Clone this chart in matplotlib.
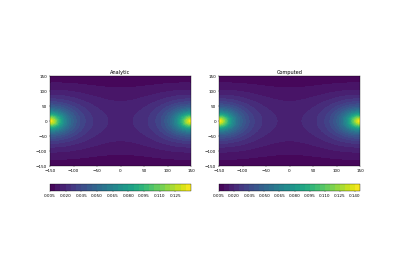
import numpy as np
import matplotlib
matplotlib.use("Agg")
import matplotlib.pyplot as plt

# --- data (read/estimated from the reference) ---
titles = ["Analytic", "Computed"]
source_x = [-150.0, 150.0]          # field sources at the left/right edges
source_strength = [2.7, 2.7]        # per panel
core_radius = [20.0, 19.2]          # per panel
decay_length = [236.0, 236.0]       # per panel
y_taper = [250.0, 250.0]            # per panel
level_min = [0.005, 0.005]
level_max = [0.140, 0.145]
level_step = 0.005
tick_max = [0.125, 0.140]
tick_step = 0.015
axis_ticks = [-150, -100, -50, 0, 50, 100, 150]

x = np.linspace(-150, 150, 241)
y = np.linspace(-150, 150, 241)
X, Y = np.meshgrid(x, y)


def field(i):
    f = np.zeros_like(X)
    for sx in source_x:
        r = np.hypot(X - sx, Y)
        f += (source_strength[i] * np.exp(-r / decay_length[i])
              / np.sqrt(r ** 2 + core_radius[i] ** 2))
    return f * np.cos(np.pi * Y / (2 * y_taper[i]))


DPI = 30
fig = plt.figure(figsize=(400 / DPI, 280 / DPI), dpi=DPI)

ax_pos = [[0.125, 0.407, 0.3525, 0.321], [0.5475, 0.407, 0.3525, 0.321]]
cb_pos = [[0.125, 0.318, 0.3525, 0.026], [0.5475, 0.318, 0.3525, 0.026]]

for i in range(2):
    ax = fig.add_axes(ax_pos[i])
    levels = np.arange(level_min[i], level_max[i] + 1e-9, level_step)
    cs = ax.contourf(X, Y, field(i), levels=levels, cmap="viridis")
    ax.set_title(titles[i])
    ax.set_xticks(axis_ticks)
    ax.set_yticks(axis_ticks)
    ax.set_xlim(-150, 150)
    ax.set_ylim(-150, 150)
    cax = fig.add_axes(cb_pos[i])
    cb = fig.colorbar(cs, cax=cax, orientation="horizontal", format="%.3f")
    cb.set_ticks(np.arange(level_min[i], tick_max[i] + 1e-9, tick_step))

fig.savefig("out.png", dpi=DPI)
